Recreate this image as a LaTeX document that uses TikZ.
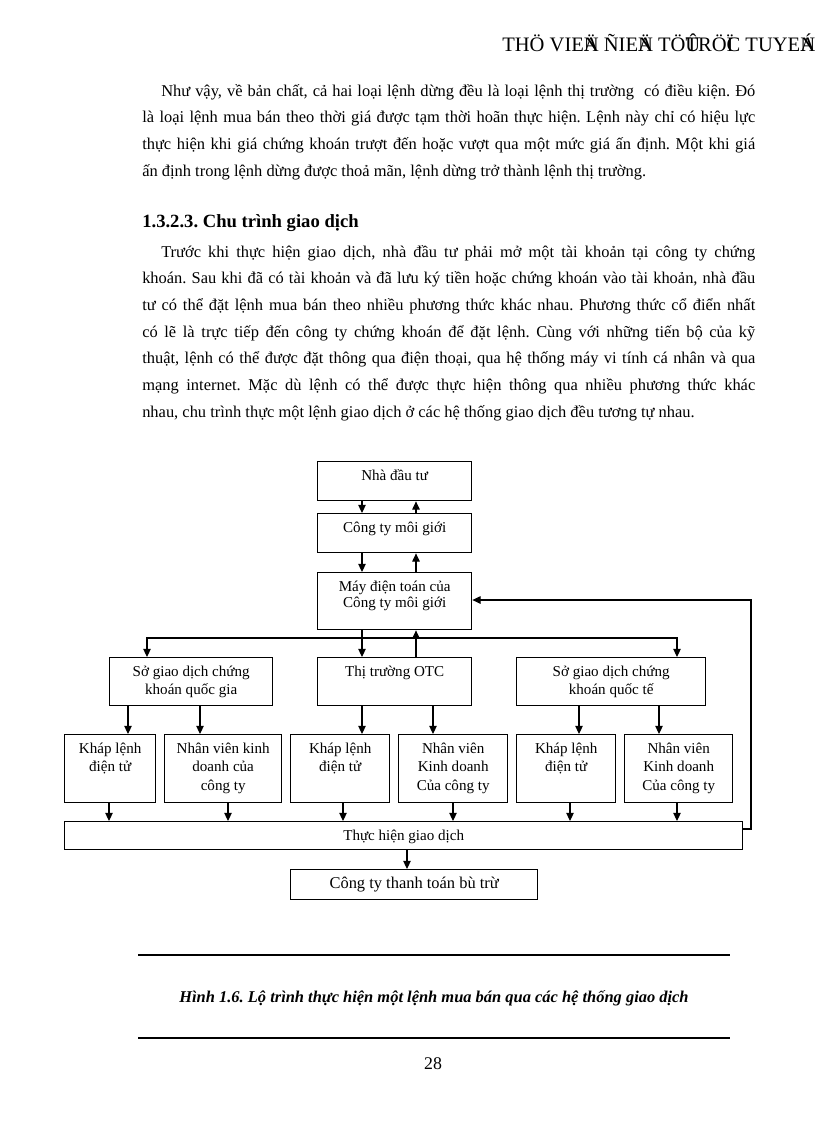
\documentclass[tikz,border=0pt]{standalone}
\usepackage{fontspec}
\setmainfont{Liberation Serif}
\usetikzlibrary{arrows.meta}
\frenchspacing

\newlength\pxu
\setlength\pxu{0.7297pt}
% khung chu: rong, cao, noi dung (canh tren)
\newcommand{\khung}[3]{\parbox[t][#2\pxu][t]{#1\pxu}{\centering\rule{0pt}{18.5\pxu}#3}}
\newcommand{\dong}[1]{\noindent\makebox[\linewidth][s]{#1}\par}
\newcommand{\dongdau}[1]{\noindent\hspace*{19\pxu}\makebox[\dimexpr\linewidth-19\pxu\relax][s]{#1}\par}
\newcommand{\dongcuoi}[1]{\noindent #1\par}
\newcommand{\chong}[1]{\makebox[0pt][l]{#1}}

\tikzset{
	o/.style={draw, line width=1pt, anchor=north west, inner sep=0pt, font=\fontsize{11}{13.5}\selectfont},
	muiten/.style={line width=0.75pt, -{Triangle[length=6pt,width=5.5pt]}},
	chu/.style={anchor=base west, inner sep=0pt, font=\fontsize{12}{19.5}\selectfont},
}

\begin{document}
\begin{tikzpicture}[x=\pxu, y=-\pxu]
	\fill[white] (0,0) rectangle (816,1123);
	\useasboundingbox (0,0) rectangle (816,1123);

	% dau trang
	\node[anchor=base west, inner sep=0pt, font=\fontsize{15}{18}\selectfont] (dautrang) at (502,51) {THÖ VIE\chong{Ä}N ÑIE\chong{Ä}N TÖ\chong{Û}TRÖ\chong{Ï}C TUYE\chong{Á}N};

	% van ban
	\node[chu] (doan1) at (142,96) {\parbox[t]{613\pxu}{
		\dongdau{Như vậy, về bản chất, cả hai loại lệnh dừng đều là loại lệnh thị trường\ \ có điều kiện. Đó}
		\dong{là loại lệnh mua bán theo thời giá được tạm thời hoãn thực hiện. Lệnh này chỉ có hiệu lực}
		\dong{thực hiện khi giá chứng khoán trượt đến hoặc vượt qua một mức giá ấn định. Một khi giá}
		\dongcuoi{ấn định trong lệnh dừng được thoả mãn, lệnh dừng trở thành lệnh thị trường.}}};
	\node[chu, font=\fontsize{13.6}{19.5}\selectfont\bfseries] (tieude) at (142,227) {1.3.2.3. Chu trình giao dịch};
	\node[chu] (doan2) at (142,257) {\parbox[t]{613\pxu}{
		\dongdau{Trước khi thực hiện giao dịch, nhà đầu tư phải mở một tài khoản tại công ty chứng}
		\dong{khoán. Sau khi đã có tài khoản và đã lưu ký tiền hoặc chứng khoán vào tài khoản, nhà đầu}
		\dong{tư có thể đặt lệnh mua bán theo nhiều phương thức khác nhau. Phương thức cổ điển nhất}
		\dong{có lẽ là trực tiếp đến công ty chứng khoán để đặt lệnh. Cùng với những tiến bộ của kỹ}
		\dong{thuật, lệnh có thể được đặt thông qua điện thoại, qua hệ thống máy vi tính cá nhân và qua}
		\dong{mạng internet. Mặc dù lệnh có thể được thực hiện thông qua nhiều phương thức khác}
		\dongcuoi{nhau, chu trình thực một lệnh giao dịch ở các hệ thống giao dịch đều tương tự nhau.}}};

	% so do
	\node[o] (nha) at (317,461) {\khung{154}{39}{Nhà đầu tư}};
	\node[o] (moigioi) at (317,513) {\khung{154}{39}{Công ty môi giới}};
	\node[o] (may) at (317,572) {\khung{154}{57}{Máy điện toán của\\[-2.5\pxu]Công ty môi giới}};
	\node[o] (sgdqg) at (109,657) {\khung{163}{48}{Sở giao dịch chứng\\khoán quốc gia}};
	\node[o] (otc) at (317,657) {\khung{154}{48}{Thị trường OTC}};
	\node[o] (sgdqt) at (516,657) {\khung{189}{48}{Sở giao dịch chứng\\khoán quốc tế}};
	\node[o] (khap1) at (64,734) {\khung{91}{68}{Kháp lệnh\\điện tử}};
	\node[o] (nv1) at (164,734) {\khung{117}{68}{Nhân viên kinh\\doanh của\\công ty}};
	\node[o] (khap2) at (290,734) {\khung{99}{68}{Kháp lệnh\\điện tử}};
	\node[o] (nv2) at (398,734) {\khung{109}{68}{Nhân viên\\Kinh doanh\\Của công ty}};
	\node[o] (khap3) at (516,734) {\khung{99}{68}{Kháp lệnh\\điện tử}};
	\node[o] (nv3) at (624,734) {\khung{108}{68}{Nhân viên\\Kinh doanh\\Của công ty}};
	\node[o] (thuchien) at (64,821) {\khung{678}{28}{Thực hiện giao dịch}};
	\node[o] (thanhtoan) at (290,869) {\khung{247}{30}{\fontsize{12}{14}\selectfont Công ty thanh toán bù trừ}};

	\draw[muiten] (362,0 |- nha.south) -- (362,0 |- moigioi.north);
	\draw[muiten] (416,0 |- moigioi.north) -- (416,0 |- nha.south);
	\draw[muiten] (362,0 |- moigioi.south) -- (362,0 |- may.north);
	\draw[muiten] (416,0 |- may.north) -- (416,0 |- moigioi.south);

	% re nhanh
	\coordinate (nga) at (362,638);
	\draw[muiten] (362,0 |- may.south) -- (362,0 |- otc.north);
	\draw[muiten] (416,0 |- otc.north) -- (416,0 |- may.south);
	\draw[muiten] (nga) -| (147,0 |- sgdqg.north);
	\draw[muiten] (nga) -| (677,0 |- sgdqt.north);

	\foreach \x/\tu/\den in {128/sgdqg/khap1, 200/sgdqg/nv1, 362/otc/khap2, 433/otc/nv2, 579/sgdqt/khap3, 659/sgdqt/nv3}
		\draw[muiten] (\x,0 |- \tu.south) -- (\x,0 |- \den.north);
	\foreach \x/\tu in {109/khap1, 228/nv1, 343/khap2, 453/nv2, 570/khap3, 677/nv3}
		\draw[muiten] (\x,0 |- \tu.south) -- (\x,0 |- thuchien.north);

	% vong ve
	\coordinate (vong) at (751,600);
	\draw[muiten] (thuchien.east |- 0,829) -| (vong) -- (may.east |- vong);
	\draw[muiten] (407,0 |- thuchien.south) -- (407,0 |- thanhtoan.north);

	% chu thich
	\draw[line width=1.1pt] (138,955) -- (730,955);
	\node[anchor=base, inner sep=0pt, font=\fontsize{12}{14}\selectfont\bfseries\itshape] (chuthich) at (434,1002) {Hình 1.6. Lộ trình thực hiện một lệnh mua bán qua các hệ thống giao dịch};
	\draw[line width=1.1pt] (138,1038) -- (730,1038);
	\node[anchor=base, inner sep=0pt, font=\fontsize{13}{15}\selectfont] (trang) at (433,1069) {28};
\end{tikzpicture}
\end{document}
